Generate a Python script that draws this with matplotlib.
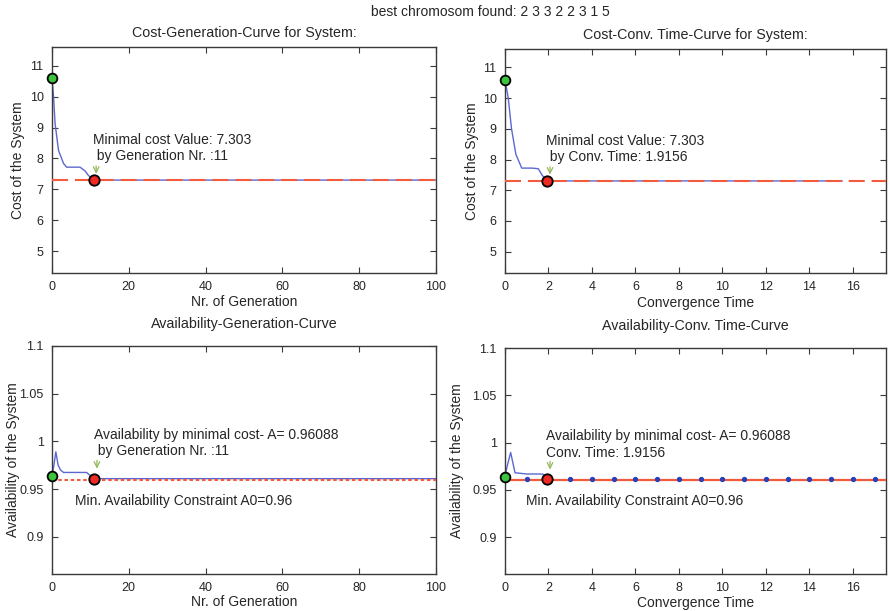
import matplotlib
matplotlib.use("Agg")
import matplotlib.pyplot as plt

plt.rcParams["font.family"] = ["Liberation Sans", "DejaVu Sans"]
plt.rcParams["font.size"] = 10
plt.rcParams["lines.scale_dashes"] = False

# ---- data -------------------------------------------------------------
best_chromosome = [2, 3, 3, 2, 2, 3, 1, 5]

min_cost = 7.303
min_generation = 11
min_time = 1.9156
min_availability = 0.96088
availability_constraint = 0.96

# cost vs generation
gen_cost_x = [0, 0.4, 0.8, 1.7, 3, 3.8, 7.3, 8.6, 9.5, 11, 100]
gen_cost_y = [10.6, 10.0, 9.13, 8.26, 7.84, 7.72, 7.72, 7.6, 7.45, 7.303, 7.303]

# cost vs convergence time
time_cost_x = [0, 0.15, 0.3, 0.5, 0.77, 1.0, 1.25, 1.53, 1.7, 1.9156, 15.5]
time_cost_y = [10.6, 10.0, 9.0, 8.17, 7.72, 7.72, 7.72, 7.70, 7.5, 7.303, 7.303]

# availability vs generation
gen_av_x = [0, 0.5, 1, 1.6, 2.2, 3, 9, 10, 11, 100]
gen_av_y = [0.964, 0.975, 0.989, 0.975, 0.970, 0.9674, 0.9674, 0.964, 0.96088, 0.96088]

# availability vs convergence time
time_av_x = [0, 0.1, 0.26, 0.46, 1.0, 1.6, 1.75, 1.9156]
time_av_y = [0.964, 0.975, 0.9895, 0.968, 0.9667, 0.9667, 0.9665, 0.96088]
time_dots_x = [1, 2, 3, 4, 5, 6, 7, 8, 9, 10, 11, 12, 13, 14, 15, 16, 17]
time_dots_y = [0.96088] * len(time_dots_x)

gen_xlim = (0, 100)
time_xlim = (0, 17.52)
cost_ylim = (4.303, 11.6)
av_ylim = (0.8609, 1.1)

gen_ticks = [0, 20, 40, 60, 80, 100]
time_ticks = [0, 2, 4, 6, 8, 10, 12, 14, 16]
cost_ticks = [5, 6, 7, 8, 9, 10, 11]
av_ticks = [0.9, 0.95, 1.0, 1.05, 1.1]
av_ticklabels = ["0.9", "0.95", "1", "1.05", "1.1"]

# ---- styles -----------------------------------------------------------
BLUE = "#5c68d2"
RED = "#f25c3c"
DOT_BLUE = "#2a3fb8"
GREEN = "#3cc43c"
MARK_RED = "#ee2a22"
ARROW = "#93b85a"
SPINE = "#3a3a3a"
TEXT = "#262626"

W, H = 889, 611
fig = plt.figure(figsize=(W / 100, H / 100), dpi=100)


def box(l, t, r, b):
    return [l / W, 1 - b / H, (r - l) / W, (b - t) / H]


ax_cg = fig.add_axes(box(52, 47, 436, 273))
ax_ct = fig.add_axes(box(505, 49, 886, 273))
ax_ag = fig.add_axes(box(52, 346, 436, 574))
ax_at = fig.add_axes(box(505, 348, 886, 574))


def style(ax, xlim, ylim, xticks, yticks, yticklabels=None):
    ax.set_xlim(*xlim)
    ax.set_ylim(*ylim)
    ax.set_xticks(xticks)
    ax.set_yticks(yticks)
    if yticklabels is not None:
        ax.set_yticklabels(yticklabels)
    ax.tick_params(direction="in", length=4, width=0.8, top=True, right=True,
                   colors=SPINE, labelcolor=TEXT, labelsize=9, pad=6)
    for s in ax.spines.values():
        s.set_color(SPINE)
        s.set_linewidth(1.0)


def labels(ax, title, title_pad, xlabel, ylabel, xlabel_y, ylabel_x):
    ax.set_title(title, fontsize=10.3, pad=title_pad, color=TEXT)
    ax.set_xlabel(xlabel, color=TEXT, fontsize=10)
    ax.set_ylabel(ylabel, color=TEXT, fontsize=10)
    ax.xaxis.set_label_coords(0.5, xlabel_y)
    ax.yaxis.set_label_coords(ylabel_x, 0.5)
    ax.xaxis.label.set_va("center")
    ax.yaxis.label.set_va("center")


dash_long = (0, (11.5, 5))
dash_short = (0, (2.5, 2.0))

# Cost vs generation
ax = ax_cg
ax.plot(gen_cost_x, gen_cost_y, color=BLUE, lw=1.0, zorder=2)
ax.plot(gen_xlim, [min_cost, min_cost], color=RED, lw=1.5, linestyle=dash_long, zorder=3)
ax.plot(gen_cost_x[0], gen_cost_y[0], "o", ms=7, mfc=GREEN, mec="black", mew=1.3, zorder=5, clip_on=False)
ax.plot(min_generation, min_cost, "o", ms=7.5, mfc=MARK_RED, mec="black", mew=1.3, zorder=5)
ax.text(10.7, 8.35, f"Minimal cost Value: {min_cost}\n by Generation Nr. :{min_generation}",
        va="center", ha="left", color=TEXT)
ax.annotate("", xy=(11.5, 7.42), xytext=(11.5, 7.85),
            arrowprops=dict(arrowstyle="->", color=ARROW, lw=0.9))
style(ax, gen_xlim, cost_ylim, gen_ticks, cost_ticks)
labels(ax, "Cost-Generation-Curve for System:", 7, "Nr. of Generation",
       "Cost of the System", -0.128, -0.088)

# Cost vs convergence time
ax = ax_ct
ax.plot(time_cost_x, time_cost_y, color=BLUE, lw=1.0, zorder=2)
ax.plot(time_xlim, [min_cost, min_cost], color=RED, lw=1.5, linestyle=dash_long, zorder=3)
ax.plot(time_cost_x[0], time_cost_y[0], "o", ms=7, mfc=GREEN, mec="black", mew=1.3, zorder=5, clip_on=False)
ax.plot(min_time, min_cost, "o", ms=7.5, mfc=MARK_RED, mec="black", mew=1.3, zorder=5)
ax.text(1.885, 8.35, f"Minimal cost Value: {min_cost}\n by Conv. Time: {min_time}",
        va="center", ha="left", color=TEXT)
ax.annotate("", xy=(2.07, 7.42), xytext=(2.07, 7.85),
            arrowprops=dict(arrowstyle="->", color=ARROW, lw=0.9))
style(ax, time_xlim, cost_ylim, time_ticks, cost_ticks)
labels(ax, "Cost-Conv. Time-Curve for System:", 7, "Convergence Time",
       "Cost of the System", -0.135, -0.087)

# Availability vs generation
ax = ax_ag
ax.plot(gen_av_x, gen_av_y, color=BLUE, lw=1.0, zorder=2)
ax.plot(gen_xlim, [availability_constraint] * 2, color=RED, lw=1.5, linestyle=dash_short, zorder=3)
ax.plot(gen_av_x[0], gen_av_y[0], "o", ms=7, mfc=GREEN, mec="black", mew=1.3, zorder=5, clip_on=False)
ax.plot(min_generation, min_availability, "o", ms=7.5, mfc=MARK_RED, mec="black", mew=1.3, zorder=5)
ax.text(11.0, 0.998, f"Availability by minimal cost- A= {min_availability}\n by Generation Nr. :{min_generation}",
        va="center", ha="left", color=TEXT)
ax.annotate("", xy=(11.7, 0.9685), xytext=(11.7, 0.983),
            arrowprops=dict(arrowstyle="->", color=ARROW, lw=0.9))
ax.text(6.0, 0.9372, f"Min. Availability Constraint A0={availability_constraint}",
        va="center", ha="left", color=TEXT)
style(ax, gen_xlim, av_ylim, gen_ticks, av_ticks, av_ticklabels)
labels(ax, "Availability-Generation-Curve", 13, "Nr. of Generation",
       "Availability of the System", -0.123, -0.102)

# Availability vs convergence time
ax = ax_at
ax.plot(time_av_x, time_av_y, color=BLUE, lw=1.0, zorder=2)
ax.plot(time_xlim, [availability_constraint] * 2, color=RED, lw=1.6, zorder=3)
ax.plot(time_dots_x, time_dots_y, "o", ms=2.8, color=DOT_BLUE, zorder=4)
ax.plot(time_av_x[0], time_av_y[0], "o", ms=7, mfc=GREEN, mec="black", mew=1.3, zorder=5, clip_on=False)
ax.plot(min_time, min_availability, "o", ms=7.5, mfc=MARK_RED, mec="black", mew=1.3, zorder=5)
ax.text(1.885, 0.998, f"Availability by minimal cost- A= {min_availability}\nConv. Time: {min_time}",
        va="center", ha="left", color=TEXT)
ax.annotate("", xy=(2.07, 0.9685), xytext=(2.07, 0.983),
            arrowprops=dict(arrowstyle="->", color=ARROW, lw=0.9))
ax.text(0.97, 0.9385, f"Min. Availability Constraint A0={availability_constraint}",
        va="center", ha="left", color=TEXT)
style(ax, time_xlim, av_ylim, time_ticks, av_ticks, av_ticklabels)
labels(ax, "Availability-Conv. Time-Curve", 13, "Convergence Time",
       "Availability of the System", -0.127, -0.126)

fig.text(490 / W, 1 - 12 / H,
         "best chromosom found: " + " ".join(str(g) for g in best_chromosome),
         ha="center", va="center", fontsize=10, color=TEXT)

fig.savefig("out.png", dpi=100)
